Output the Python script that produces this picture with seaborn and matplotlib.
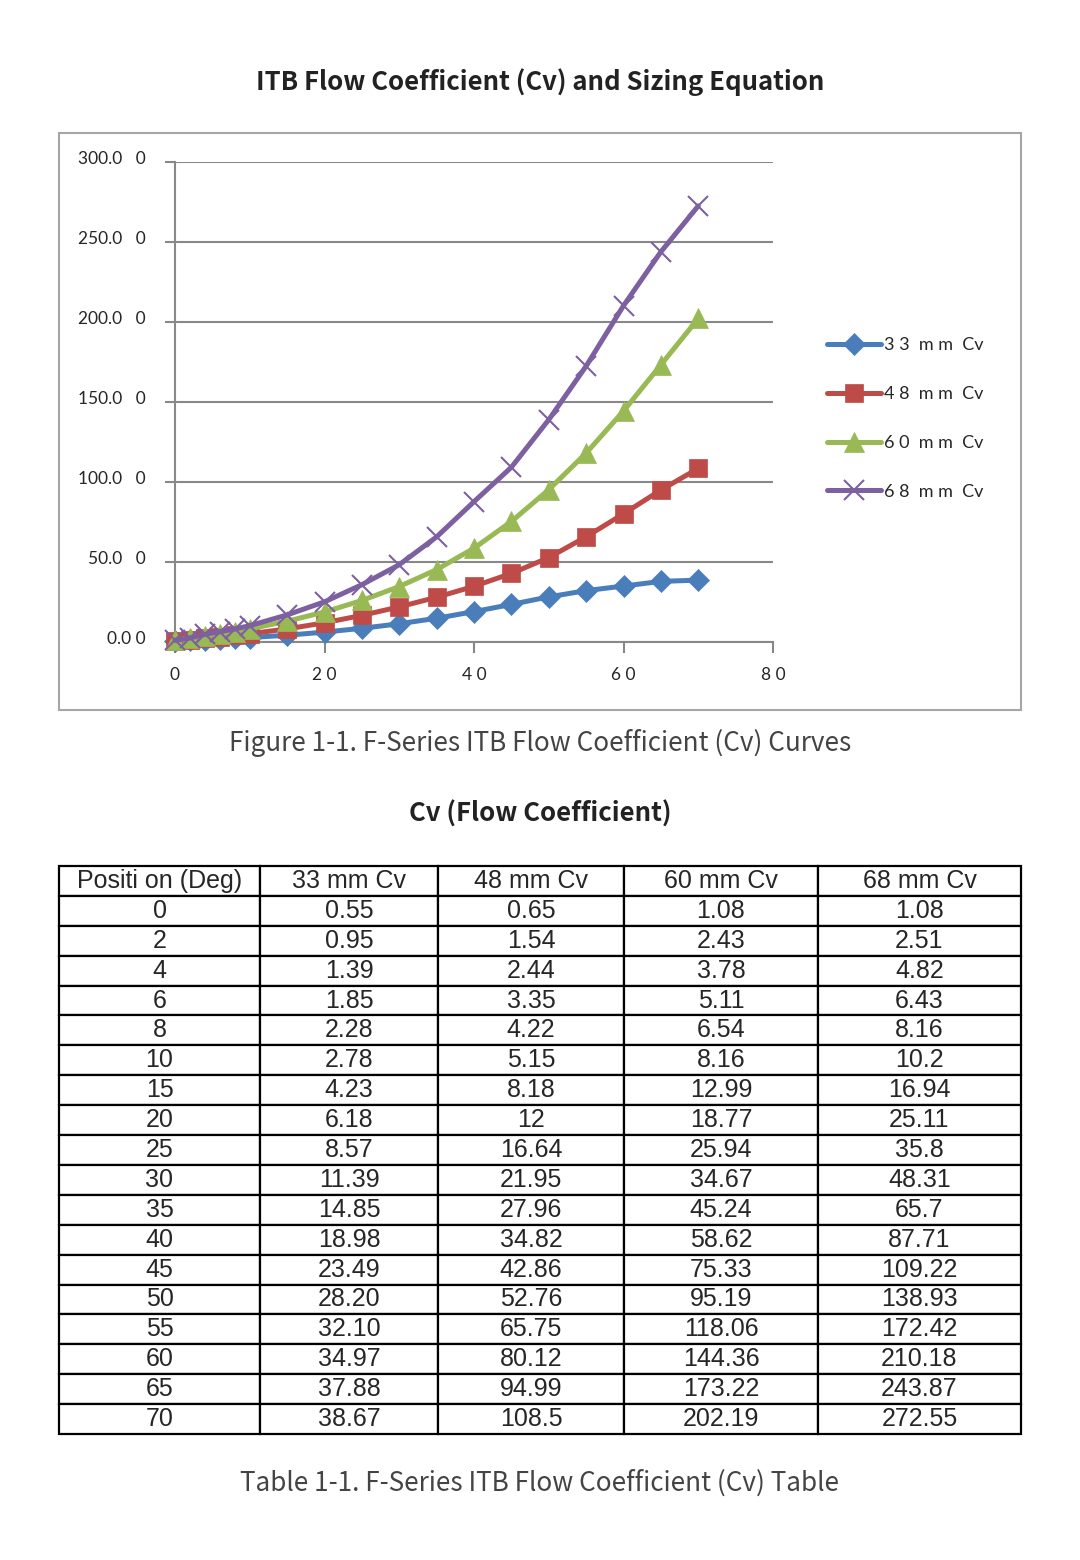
import matplotlib
matplotlib.use("Agg")
import matplotlib.pyplot as plt
from matplotlib.patches import Rectangle
from matplotlib.lines import Line2D
from matplotlib.transforms import ScaledTranslation
import seaborn as sns
import pandas as pd

positions = [0, 2, 4, 6, 8, 10, 15, 20, 25, 30, 35, 40, 45, 50, 55, 60, 65, 70]
cv33 = [0.55, 0.95, 1.39, 1.85, 2.28, 2.78, 4.23, 6.18, 8.57, 11.39, 14.85, 18.98, 23.49, 28.20, 32.10, 34.97, 37.88, 38.67]
cv48 = [0.65, 1.54, 2.44, 3.35, 4.22, 5.15, 8.18, 12, 16.64, 21.95, 27.96, 34.82, 42.86, 52.76, 65.75, 80.12, 94.99, 108.5]
cv60 = [1.08, 2.43, 3.78, 5.11, 6.54, 8.16, 12.99, 18.77, 25.94, 34.67, 45.24, 58.62, 75.33, 95.19, 118.06, 144.36, 173.22, 202.19]
cv68 = [1.08, 2.51, 4.82, 6.43, 8.16, 10.2, 16.94, 25.11, 35.8, 48.31, 65.7, 87.71, 109.22, 138.93, 172.42, 210.18, 243.87, 272.55]
cv33_txt = ["0.55", "0.95", "1.39", "1.85", "2.28", "2.78", "4.23", "6.18", "8.57", "11.39", "14.85", "18.98", "23.49", "28.20", "32.10", "34.97", "37.88", "38.67"]
cv48_txt = ["0.65", "1.54", "2.44", "3.35", "4.22", "5.15", "8.18", "12", "16.64", "21.95", "27.96", "34.82", "42.86", "52.76", "65.75", "80.12", "94.99", "108.5"]
cv60_txt = ["1.08", "2.43", "3.78", "5.11", "6.54", "8.16", "12.99", "18.77", "25.94", "34.67", "45.24", "58.62", "75.33", "95.19", "118.06", "144.36", "173.22", "202.19"]
cv68_txt = ["1.08", "2.51", "4.82", "6.43", "8.16", "10.2", "16.94", "25.11", "35.8", "48.31", "65.7", "87.71", "109.22", "138.93", "172.42", "210.18", "243.87", "272.55"]
series_names = ["3 3  m m  Cv", "4 8  m m  Cv", "6 0  m m  Cv", "6 8  m m  Cv"]
table_headers = ["Positi on (Deg)", "33 mm Cv", "48 mm Cv", "60 mm Cv", "68 mm Cv"]
y_ticks = [0, 50, 100, 150, 200, 250, 300]
y_tick_labels = ["0.0 0", "50.0   0", "100.0   0", "150.0   0", "200.0   0", "250.0   0", "300.0   0"]
x_ticks = [0, 20, 40, 60, 80]
x_tick_labels = ["0", "2 0", "4 0", "6 0", "8 0"]

colors = ["#4A7EBB", "#BE4B48", "#98B954", "#7D60A0"]
markers = ["D", "s", "^", "x"]
msizes = [11.5, 13, 14, 14]

sns.set_style("white")
plt.rcParams["font.family"] = ["Lato", "DejaVu Sans"]

fig = plt.figure(figsize=(10.8, 15.6), dpi=100)
W, H = 1080, 1560

def fx(px):
    return px / W

def fy(py):
    return 1 - py / H

# chart frame
fig.patches.append(Rectangle((fx(59), fy(710)), fx(1021) - fx(59), fy(133) - fy(710),
                             transform=fig.transFigure, fill=False, edgecolor="#A6A6A6", linewidth=1.5))

ax = fig.add_axes([fx(175), fy(642), fx(773) - fx(175), fy(162) - fy(642)])
df = pd.DataFrame({"pos": positions, "a": cv33, "b": cv48, "c": cv60, "d": cv68})
handles = []
for col, c, m, ms, name in zip(["a", "b", "c", "d"], colors, markers, msizes, series_names):
    mew = 1.5 if m == "x" else 0.5
    sns.lineplot(data=df, x="pos", y=col, ax=ax, color=c, marker=m, markersize=ms,
                 linewidth=3.6, markeredgecolor=c, markeredgewidth=mew,
                 clip_on=False, zorder=3)
    handles.append(Line2D([0], [0], color=c, marker=m, markersize=ms, linewidth=3.6,
                          markeredgecolor=c, markeredgewidth=mew))

ax.set_xlim(0, 80)
ax.set_ylim(0, 300)
ax.set_xlabel("")
ax.set_ylabel("")
ax.set_yticks(y_ticks)
ax.set_yticklabels(y_tick_labels)
ax.set_xticks(x_ticks)
ax.set_xticklabels(x_tick_labels)
ax.grid(axis="y", color="#888888", linewidth=1.5)
ax.grid(axis="x", visible=False)
for s in ["top", "right"]:
    ax.spines[s].set_visible(False)
for s in ["left", "bottom"]:
    ax.spines[s].set_color("#888888")
    ax.spines[s].set_linewidth(1.5)
ax.tick_params(axis="y", which="major", length=7, width=1.5, color="#888888", labelsize=12.5, pad=14, left=True)
ax.tick_params(axis="x", which="major", length=8, width=1.5, color="#888888", labelsize=12.5, pad=10, bottom=True)
for lab in ax.get_yticklabels():
    lab.set_transform(lab.get_transform() + ScaledTranslation(0, 5 / 100, fig.dpi_scale_trans))

ax.legend(handles, series_names, loc="upper left", bbox_to_anchor=(fx(820), fy(330)),
          bbox_transform=fig.transFigure, frameon=False, fontsize=13, handlelength=3.0,
          handletextpad=0.15, labelspacing=1.82, borderaxespad=0)

cjk = ["Noto Sans CJK SC", "DejaVu Sans"]
fig.text(0.5, fy(82), "ITB Flow Coefficient (Cv) and Sizing Equation", ha="center", va="center",
         fontsize=18.5, fontweight="bold", family=cjk, color="#222222")
fig.text(0.5, fy(743), "Figure 1-1. F-Series ITB Flow Coefficient (Cv) Curves", ha="center", va="center",
         fontsize=18.8, fontweight="light", family=cjk, color="#444444")
fig.text(0.5, fy(814), "Cv (Flow Coefficient)", ha="center", va="center",
         fontsize=18.5, fontweight="bold", family=cjk, color="#222222")
fig.text(0.5, fy(1483), "Table 1-1. F-Series ITB Flow Coefficient (Cv) Table", ha="center", va="center",
         fontsize=18.8, fontweight="light", family=cjk, color="#444444")

# table
tax = fig.add_axes([fx(59), fy(1434), fx(1021) - fx(59), fy(866) - fy(1434)])
tax.axis("off")
cell_text = [[str(p), a, b, c, d] for p, a, b, c, d in zip(positions, cv33_txt, cv48_txt, cv60_txt, cv68_txt)]
col_px = [260 - 59, 438 - 260, 624 - 438, 818 - 624, 1021 - 818]
tot = sum(col_px)
tbl = tax.table(cellText=cell_text, colLabels=table_headers, cellLoc="center",
                colWidths=[w / tot for w in col_px], bbox=[0, 0, 1, 1])
tbl.auto_set_font_size(False)
for (r, c), cell in tbl.get_celld().items():
    cell.set_edgecolor("black")
    cell.set_linewidth(1.6)
    cell.get_text().set_fontsize(18)
    cell.get_text().set_family(["Liberation Sans", "DejaVu Sans"])
    cell.PAD = 0.0

fig.savefig("out.png", dpi=100)
